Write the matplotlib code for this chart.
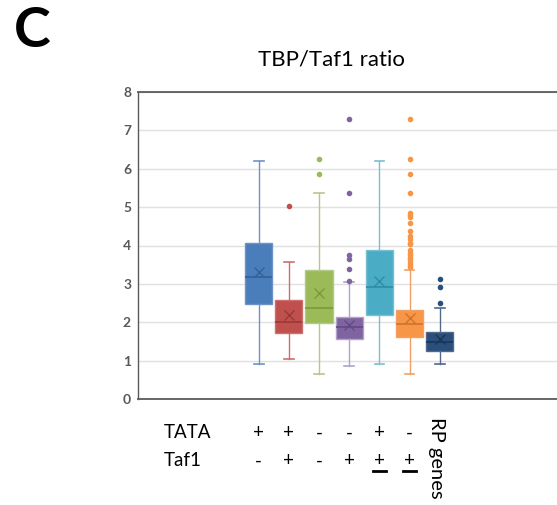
import matplotlib.pyplot as plt
from matplotlib.transforms import blended_transform_factory
from matplotlib.lines import Line2D

plt.rcParams['font.family'] = ['Lato', 'DejaVu Sans']

# box statistics
groups = ["TATA+ Taf1-", "TATA+ Taf1+", "TATA- Taf1-", "TATA- Taf1+",
          "TATA+ Taf1±", "TATA- Taf1±", "RP genes"]
whislo = [0.92, 1.03, 0.64, 0.85, 0.92, 0.64, 0.92]
q1 = [2.47, 1.72, 1.99, 1.57, 2.20, 1.62, 1.26]
med = [3.17, 2.00, 2.36, 1.87, 2.93, 1.95, 1.48]
q3 = [4.06, 2.59, 3.37, 2.14, 3.89, 2.33, 1.74]
whishi = [6.20, 3.58, 5.36, 3.06, 6.20, 3.37, 2.38]
means = [3.31, 2.20, 2.75, 1.94, 3.08, 2.12, 1.57]
fliers = [
    [],
    [5.03],
    [6.26, 5.87],
    [7.30, 5.36, 3.76, 3.64, 3.38, 3.08],
    [],
    [7.30, 6.26, 5.87, 5.36, 4.85, 4.79, 4.73, 4.59, 4.38, 4.24, 4.16,
     4.07, 4.03, 3.88, 3.81, 3.75, 3.68, 3.62, 3.55, 3.49, 3.43],
    [3.12, 2.91, 2.50],
]
tata_row = ["+", "+", "-", "-", "+", "-"]
taf1_row = ["-", "+", "-", "+", "+", "+"]
underlined = [False, False, False, False, True, True]

fills = ["#4a7ebb", "#c0504d", "#9bbb59", "#8064a2", "#4bacc6", "#f79646", "#2a4f7c"]
darks = ["#35609a", "#9c3936", "#7a9a3e", "#624a85", "#2f8ca6", "#d0742a", "#1a3558"]
whisk = ["#6b93c8", "#cc6f6c", "#b3c98a", "#b0a2c8", "#79bfd2", "#f2a065", "#52698c"]

positions = list(range(1, len(groups) + 1))

fig = plt.figure(figsize=(5.57, 5.05), dpi=100)
ax = fig.add_axes([138 / 557, 106 / 505, 427 / 557, 307 / 505])

stats = []
for i in range(len(groups)):
    stats.append(dict(label=groups[i], whislo=whislo[i], q1=q1[i], med=med[i],
                      q3=q3[i], whishi=whishi[i], mean=means[i], fliers=fliers[i]))

for i, s in enumerate(stats):
    ax.bxp([s], positions=[positions[i]], widths=0.9, capwidths=0.32,
           patch_artist=True, showmeans=True,
           boxprops=dict(facecolor=fills[i], edgecolor=whisk[i], linewidth=1.0),
           medianprops=dict(color=darks[i], linewidth=1.2),
           whiskerprops=dict(color=whisk[i], linewidth=1.0),
           capprops=dict(color=whisk[i], linewidth=1.2),
           meanprops=dict(marker="x", markeredgecolor=darks[i], markersize=7,
                          markeredgewidth=1.0),
           flierprops=dict(marker="o", markerfacecolor=fills[i],
                           markeredgecolor=fills[i], markersize=3),
           zorder=3)

ax.set_xlim(-3, 11.15)
ax.set_ylim(0, 8)
ax.set_yticks(range(0, 9))
ax.set_xticks([])
ax.tick_params(axis="y", length=0, pad=5, labelsize=10, labelcolor="#595959")
for lab in ax.get_yticklabels():
    lab.set_fontweight("bold")
ax.grid(axis="y", color="#e0e0e0", linewidth=1.0, zorder=0)
ax.set_axisbelow(True)
for side in ["top", "bottom", "left", "right"]:
    ax.spines[side].set_color("#5a5a5a")
    ax.spines[side].set_linewidth(1.3)
ax.spines["left"].set_linewidth(1.0)

fig.text(14 / 557, 1 - 31 / 505, "C", fontsize=40, fontweight="bold",
         ha="left", va="center")
fig.text(331 / 557, 1 - 60 / 505, "TBP/Taf1 ratio", fontsize=16,
         ha="center", va="center")

trans = blended_transform_factory(ax.transData, fig.transFigure)
fig.text(164 / 557, 1 - 433 / 505, "TATA", fontsize=13.5, ha="left", va="center")
fig.text(164 / 557, 1 - 461 / 505, "Taf1", fontsize=13.5, ha="left", va="center")
for i in range(len(tata_row)):
    ax.text(positions[i], 1 - 433 / 505, tata_row[i], transform=trans,
            fontsize=13.5, ha="center", va="center")
    ax.text(positions[i], 1 - 461 / 505, taf1_row[i], transform=trans,
            fontsize=13.5, ha="center", va="center")
    if underlined[i]:
        ax.add_line(Line2D([positions[i] - 0.22, positions[i] + 0.22],
                           [1 - 471 / 505, 1 - 471 / 505], transform=trans,
                           color="black", linewidth=2.0, clip_on=False))
ax.text(positions[-1] - 0.12, 1 - 417 / 505, "RP genes", transform=trans,
        fontsize=14.5, rotation=270, ha="center", va="top")

fig.savefig("out.png", dpi=100)
